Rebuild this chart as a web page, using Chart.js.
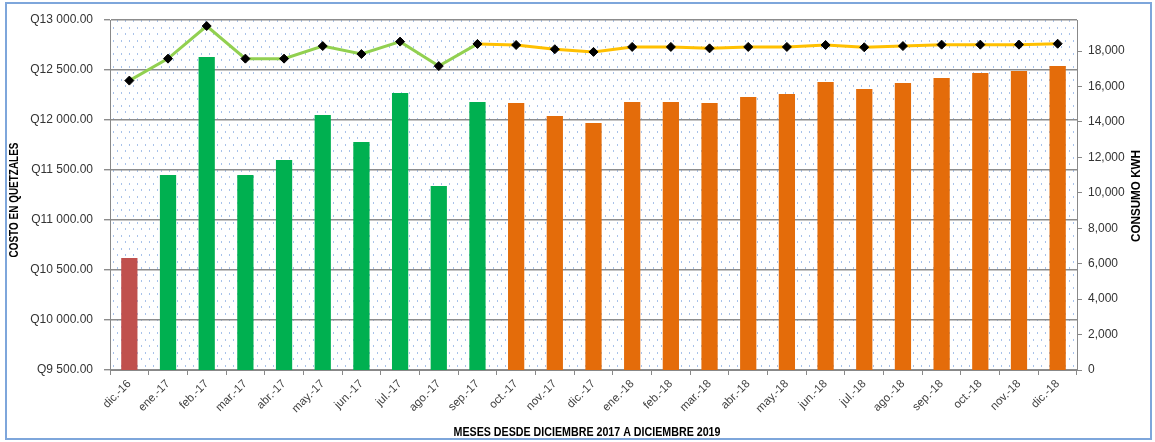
<!DOCTYPE html>
<html>
<head>
    <title>Costo y consumo mensual</title>
    <script src="https://cdn.jsdelivr.net/npm/chart.js"></script>
    <style>
        body {
            margin: 0;
            padding: 0;
            background-color: #fff;
        }
        #wrap {
            position: relative;
            width: 1155px;
            height: 442px;
        }
        .frame {
            position: absolute;
            left: 5px;
            top: 2px;
            width: 1147px;
            height: 438px;
            border: 2px solid #7ea6db;
            box-sizing: border-box;
            pointer-events: none;
        }
    </style>
</head>
<body>
    <div id="wrap">
        <canvas id="myChart" width="1155" height="442"></canvas>
        <div class="frame"></div>
    </div>
    <script>
        var meses = ['dic.-16', 'ene.-17', 'feb.-17', 'mar.-17', 'abr.-17', 'may.-17', 'jun.-17', 'jul.-17', 'ago.-17',
            'sep.-17', 'oct.-17', 'nov.-17', 'dic.-17', 'ene.-18', 'feb.-18', 'mar.-18', 'abr.-18', 'may.-18',
            'jun.-18', 'jul.-18', 'ago.-18', 'sep.-18', 'oct.-18', 'nov.-18', 'dic.-18'];

        // costo en quetzales (barras, eje izquierdo)
        var costoQ = [10620, 11450, 12630, 11450, 11600, 12050, 11780, 12270, 11340,
            12180, 12170, 12040, 11970, 12180, 12180, 12170, 12230, 12260,
            12380, 12310, 12370, 12420, 12470, 12490, 12540];

        // consumo kWh (linea, eje derecho)
        var consumoKwh = [16330, 17570, 19410, 17570, 17570, 18280, 17830, 18530, 17150,
            18400, 18340, 18100, 17950, 18230, 18230, 18150, 18230, 18230,
            18340, 18210, 18280, 18360, 18360, 18360, 18410];

        var ticksQ = [9500, 10000, 10500, 11000, 11500, 12000, 12500, 13000];
        var ticksKwh = [0, 2000, 4000, 6000, 8000, 10000, 12000, 14000, 16000, 18000];

        var fuente = '"Liberation Sans", Arial, sans-serif';

        function colorBarra(i) {
            if (i === 0) return '#c0504d';
            if (i <= 9) return '#00b050';
            return '#e46c0a';
        }

        function formatoQ(v) {
            var s = String(Math.round(v));
            s = s.replace(/\B(?=(\d{3})+(?!\d))/g, ' ');
            return 'Q' + s + '.00';
        }

        var patron = null;
        function getPatron(ctx) {
            if (patron) return patron;
            var c = document.createElement('canvas');
            c.width = 8;
            c.height = 13;
            var g = c.getContext('2d');
            g.fillStyle = '#a8c2ea';
            g.fillRect(1, 1, 1, 2);
            g.fillRect(5, 7, 1, 2);
            patron = ctx.createPattern(c, 'repeat');
            return patron;
        }

        var fondo = {
            id: 'fondo',
            beforeDraw: function (chart) {
                var ctx = chart.ctx, a = chart.chartArea;
                ctx.save();
                ctx.fillStyle = '#fff';
                ctx.fillRect(0, 0, chart.width, chart.height);
                ctx.fillStyle = getPatron(ctx);
                ctx.fillRect(a.left, a.top, a.right - a.left, a.bottom - a.top);
                ctx.restore();
            }
        };

        function textoAjustado(ctx, txt, x, y, ancho, rot) {
            ctx.save();
            ctx.translate(x, y);
            ctx.rotate(rot);
            var w = ctx.measureText(txt).width;
            ctx.scale(ancho / w, 1);
            ctx.fillText(txt, 0, 0);
            ctx.restore();
        }

        var titulos = {
            id: 'titulos',
            afterDraw: function (chart) {
                var ctx = chart.ctx;
                ctx.save();
                ctx.fillStyle = '#000';
                ctx.textAlign = 'center';
                ctx.textBaseline = 'middle';
                ctx.font = 'bold 12px ' + fuente;
                textoAjustado(ctx, 'COSTO EN QUETZALES', 15, 200, 115, -Math.PI / 2);
                textoAjustado(ctx, 'CONSUMO KWH', 1137, 196, 92, -Math.PI / 2);
                textoAjustado(ctx, 'MESES DESDE DICIEMBRE 2017 A DICIEMBRE 2019', 587, 433, 267, 0);
                ctx.restore();
            }
        };

        var ctx = document.getElementById('myChart').getContext('2d');
        var myChart = new Chart(ctx, {
            type: 'bar',
            data: {
                labels: meses,
                datasets: [{
                    type: 'line',
                    label: 'Consumo kWh',
                    data: consumoKwh,
                    yAxisID: 'y1',
                    order: 0,
                    borderWidth: 3,
                    tension: 0,
                    segment: {
                        borderColor: function (c) {
                            return c.p0DataIndex >= 9 ? '#ffc000' : '#92d050';
                        }
                    },
                    borderColor: '#92d050',
                    pointStyle: 'rectRot',
                    pointRadius: 4.5,
                    pointBackgroundColor: '#000',
                    pointBorderColor: '#000',
                    pointBorderWidth: 1
                }, {
                    type: 'bar',
                    label: 'Costo en quetzales',
                    data: costoQ,
                    yAxisID: 'y',
                    order: 1,
                    backgroundColor: function (c) { return colorBarra(c.dataIndex); },
                    barPercentage: 0.42,
                    categoryPercentage: 1
                }]
            },
            options: {
                responsive: false,
                animation: false,
                devicePixelRatio: 1,
                layout: { padding: { top: 20, left: 0, right: 0, bottom: 0 } },
                plugins: {
                    legend: { display: false },
                    tooltip: { enabled: false }
                },
                scales: {
                    x: {
                        offset: true,
                        grid: { display: true, offset: true, drawOnChartArea: false, tickLength: 5, color: '#888' },
                        border: { display: true, color: '#888' },
                        ticks: {
                            autoSkip: false,
                            minRotation: 45,
                            maxRotation: 45,
                            padding: 2,
                            color: '#404040',
                            font: { size: 11.5, family: fuente }
                        },
                        afterFit: function (s) { s.height = 72; }
                    },
                    y: {
                        position: 'left',
                        min: 9500,
                        max: 13000,
                        afterBuildTicks: function (s) {
                            s.ticks = ticksQ.map(function (v) { return { value: v }; });
                        },
                        grid: { color: '#8c8c8c', lineWidth: 1.4, tickLength: 6 },
                        border: { display: true, color: '#888' },
                        ticks: {
                            padding: 11,
                            color: '#333',
                            font: { size: 12, family: fuente },
                            callback: function (v) { return formatoQ(v); }
                        },
                        afterFit: function (s) { s.width = 110; }
                    },
                    y1: {
                        position: 'right',
                        min: 0,
                        max: 19750,
                        afterBuildTicks: function (s) {
                            s.ticks = ticksKwh.map(function (v) { return { value: v }; });
                        },
                        grid: { drawOnChartArea: false, tickLength: 5, color: '#888' },
                        border: { display: true, color: '#888' },
                        ticks: {
                            padding: 6,
                            color: '#333',
                            font: { size: 12, family: fuente },
                            callback: function (v) { return v.toLocaleString('en-US'); }
                        },
                        afterFit: function (s) { s.width = 78; }
                    }
                }
            },
            plugins: [fondo, titulos]
        });
    </script>
</body>
</html>
